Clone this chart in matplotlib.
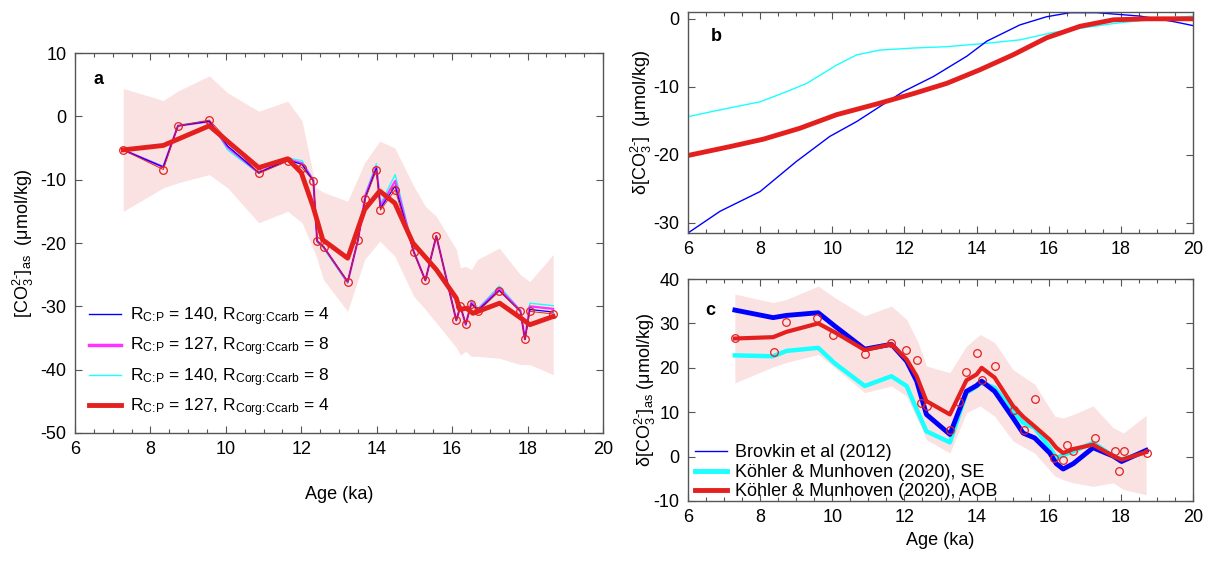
import matplotlib
matplotlib.use("Agg")
import matplotlib.pyplot as plt
from matplotlib.lines import Line2D
from matplotlib.ticker import MultipleLocator

plt.rcParams["font.family"] = ["Liberation Sans", "DejaVu Sans"]
plt.rcParams["mathtext.fontset"] = "custom"
plt.rcParams["mathtext.rm"] = "Liberation Sans"
plt.rcParams["mathtext.it"] = "Liberation Sans"
plt.rcParams["mathtext.default"] = "regular"
plt.rcParams["axes.unicode_minus"] = False

# ---------------- panel a data ----------------
circ_age = [7.28, 8.34, 8.73, 9.56, 10.87, 11.64, 12.02, 12.32, 12.42, 12.59, 13.23, 13.50,
            13.70, 13.99, 14.10, 14.49, 14.98, 15.29, 15.58, 16.11, 16.22, 16.36, 16.51,
            16.69, 17.25, 17.81, 17.93, 18.06, 18.68]
circ_val = [-5.3, -8.4, -1.5, -0.6, -9.0, -7.1, -8.1, -10.2, -19.7, -20.6, -26.1, -19.6,
            -13.0, -8.5, -14.8, -11.6, -21.5, -25.9, -18.9, -32.2, -30.0, -32.8, -29.7,
            -30.8, -27.6, -30.8, -35.2, -30.8, -31.2]

model_age = [7.28, 8.34, 8.73, 9.56, 10.05, 10.87, 11.64, 12.02, 12.32, 12.42, 12.59, 13.23,
             13.50, 13.70, 13.99, 14.10, 14.49, 14.98, 15.29, 15.58, 16.11, 16.22, 16.36,
             16.51, 16.69, 17.25, 17.81, 17.93, 18.06, 18.68]
blue_140_4 = [-5.3, -8.0, -1.5, -0.8, -4.7, -8.9, -6.9, -7.6, -10.2, -19.7, -20.6, -26.1,
              -19.6, -12.8, -8.2, -14.5, -11.0, -21.4, -25.9, -18.9, -32.2, -30.0, -32.8,
              -29.6, -30.6, -27.5, -30.8, -35.2, -30.5, -30.9]
mag_127_8 = [-5.3, -8.0, -1.5, -0.8, -4.9, -8.9, -6.8, -7.4, -10.1, -19.7, -20.6, -26.2,
             -19.6, -12.5, -8.0, -14.2, -10.2, -21.3, -25.9, -18.9, -32.2, -30.0, -32.9,
             -29.4, -30.5, -27.2, -30.7, -35.2, -30.0, -30.4]
cyan_140_8 = [-5.3, -7.9, -1.4, -0.7, -5.3, -9.0, -6.6, -7.0, -10.0, -19.9, -20.8, -26.4,
              -19.6, -12.2, -7.5, -13.8, -9.2, -21.2, -26.0, -18.9, -32.3, -29.8, -33.0,
              -29.0, -30.3, -26.8, -30.6, -35.2, -29.5, -29.9]

red_age = [7.28, 8.34, 9.56, 10.87, 11.64, 12.00, 12.31, 12.57, 13.23, 13.68, 14.08, 14.48,
           14.96, 15.58, 16.11, 16.20, 16.38, 16.55, 17.26, 17.88, 18.06, 18.68]
red_127_4 = [-5.3, -4.6, -1.5, -8.1, -6.7, -8.9, -14.2, -19.5, -22.4, -14.7, -11.8, -13.7,
             -20.0, -24.2, -28.7, -30.5, -30.3, -31.1, -29.5, -32.1, -32.9, -31.6]

band_a_age = [7.28, 8.34, 8.73, 9.56, 10.05, 10.87, 11.64, 12.02, 12.39, 12.59, 13.23, 13.68,
              14.08, 14.48, 14.98, 15.29, 15.58, 16.11, 16.22, 16.36, 16.51, 16.67, 17.25,
              17.81, 18.06, 18.68]
band_a_hi = [4.4, 2.5, 4.0, 6.4, 3.7, 0.8, 2.4, -0.7, -11.3, -12.0, -13.4, -7.3, -3.9, -5.0,
             -11.0, -14.2, -15.8, -21.0, -23.9, -23.7, -24.2, -22.6, -20.8, -25.0, -26.1, -21.8]
band_a_lo = [-15.0, -11.3, -10.5, -9.2, -11.3, -16.8, -15.0, -16.8, -22.0, -25.8, -30.8,
             -22.6, -19.7, -22.1, -28.4, -30.5, -32.6, -36.5, -37.7, -37.1, -37.9, -37.9,
             -38.2, -39.2, -39.2, -40.8]

legend_a = [
    r"$R_{C\!:\!P}$ = 140, $R_{Corg\!:\!Ccarb}$ = 4",
    r"$R_{C\!:\!P}$ = 127, $R_{Corg\!:\!Ccarb}$ = 8",
    r"$R_{C\!:\!P}$ = 140, $R_{Corg\!:\!Ccarb}$ = 8",
    r"$R_{C\!:\!P}$ = 127, $R_{Corg\!:\!Ccarb}$ = 4",
]

# ---------------- panel b data ----------------
b_cyan_age = [6.0, 6.7, 8.0, 8.74, 9.29, 10.12, 10.68, 11.32, 12.25, 13.17, 14.28, 15.2,
              16.13, 16.87, 17.79, 18.72, 20.0]
b_cyan = [-14.4, -13.6, -12.2, -10.7, -9.5, -6.8, -5.3, -4.6, -4.3, -4.1, -3.6, -3.1,
          -2.0, -1.4, -0.7, -0.15, 0.4]
b_blue_age = [6.0, 6.89, 8.0, 9.0, 9.93, 10.68, 11.32, 11.97, 12.8, 13.73, 14.28, 15.2,
              15.94, 16.59, 17.33, 18.53, 19.45, 20.0]
b_blue = [-31.5, -28.3, -25.4, -21.0, -17.3, -15.1, -12.9, -10.7, -8.5, -5.5, -3.3, -0.9,
          0.3, 0.9, 0.9, 0.4, -0.4, -1.0]
b_red_age = [6.0, 7.16, 8.09, 9.1, 10.12, 11.32, 12.25, 13.17, 14.09, 15.01, 15.94, 16.87,
             17.79, 18.72, 20.0]
b_red = [-20.1, -18.8, -17.7, -16.1, -14.1, -12.4, -11.0, -9.5, -7.5, -5.3, -2.8, -1.1,
         -0.15, 0.0, 0.0]

# ---------------- panel c data ----------------
c_age = [7.30, 8.36, 8.73, 9.61, 10.07, 10.90, 11.64, 12.06, 12.34, 12.61, 13.26, 13.72,
         14.00, 14.14, 14.50, 15.01, 15.29, 15.61, 16.03, 16.21, 16.40, 16.68, 17.23,
         17.79, 18.02, 18.70]
c_brovkin = [33.0, 31.3, 31.8, 32.4, 29.4, 24.2, 25.3, 21.5, 17.0, 9.5, 5.0, 14.7, 16.0,
             17.0, 14.7, 8.7, 5.3, 4.2, 0.8, -1.6, -2.8, -1.6, 2.0, 0.1, -1.1, 1.4]
c_km_se = [22.8, 22.6, 23.8, 24.5, 21.0, 15.9, 18.1, 15.9, 10.6, 5.7, 3.2, 14.4, 15.8,
           16.6, 15.5, 10.2, 7.6, 6.5, 2.0, -0.3, 0.3, 1.2, 3.1, 0.1, -0.7, 1.2]
c_km_aob = [26.6, 26.9, 28.1, 30.0, 28.0, 24.0, 25.3, 21.9, 18.1, 12.5, 9.5, 17.2, 18.5,
            20.0, 17.8, 11.4, 9.0, 6.8, 3.8, 2.0, 0.8, 1.7, 2.7, 0.1, -0.7, 1.0]

c_circ_age = [7.30, 8.38, 8.73, 9.58, 10.03, 10.90, 11.64, 12.04, 12.35, 12.45, 12.63,
              13.26, 13.52, 13.72, 14.01, 14.14, 14.50, 15.03, 15.32, 15.62, 16.14, 16.40,
              16.52, 16.68, 17.27, 17.83, 17.95, 18.10, 18.72]
c_circ = [26.6, 23.5, 30.3, 31.2, 27.5, 23.0, 25.5, 24.0, 21.7, 12.1, 11.4, 5.9, 12.3, 19.0,
          23.4, 17.2, 20.4, 10.5, 6.1, 13.0, -0.3, -0.8, 2.5, 1.2, 4.2, 1.2, -3.3, 1.2, 0.8]

band_c_age = [7.30, 8.36, 8.73, 9.61, 10.07, 10.90, 11.64, 12.06, 12.38, 12.61, 13.26,
              13.72, 14.10, 14.50, 15.01, 15.61, 16.17, 16.40, 16.68, 17.23, 17.79, 18.07,
              18.70]
band_c_hi = [36.6, 34.7, 35.4, 38.4, 35.8, 31.7, 33.9, 30.9, 25.7, 20.4, 18.9, 24.9, 27.5,
             25.7, 19.6, 16.3, 9.1, 8.7, 9.5, 11.4, 6.5, 5.3, 9.3]
band_c_lo = [16.6, 20.2, 21.2, 23.0, 20.0, 14.4, 15.9, 13.6, 8.0, 3.8, 0.8, 9.9, 11.4, 9.1,
             3.5, 0.8, -4.4, -5.2, -5.9, -6.7, -5.9, -7.4, -8.6]

legend_c = ["Brovkin et al (2012)", "Köhler & Munhoven (2020), SE",
            "Köhler & Munhoven (2020), AOB"]

BLUE = "#0000ff"
MAG = "#ff33ff"
CYAN = "#1affff"
RED = "#e4201f"
PINK = "#fbe2e2"
SPINE = "#555555"
FS = 13
CO3 = "[CO$_3^{2\u2010}$]"


def style_axes(ax, xlim, ylim, ymajor):
    ax.set_xlim(*xlim)
    ax.set_ylim(*ylim)
    ax.xaxis.set_major_locator(MultipleLocator(2))
    ax.xaxis.set_minor_locator(MultipleLocator(0.5))
    ax.yaxis.set_major_locator(MultipleLocator(ymajor))
    ax.tick_params(which="both", direction="in", top=True, right=True,
                   labelsize=FS, color=SPINE, width=0.8, pad=6)
    ax.tick_params(which="major", length=5)
    ax.tick_params(which="minor", length=3)
    for sp in ax.spines.values():
        sp.set_color(SPINE)
        sp.set_linewidth(1.0)


fig = plt.figure(figsize=(12.15, 5.66), dpi=100)

# ---------- a ----------
ax_a = fig.add_axes([75 / 1215, 1 - 433 / 566, 528 / 1215, 380 / 566])
ax_a.fill_between(band_a_age, band_a_lo, band_a_hi, color=PINK, lw=0)
ax_a.plot(model_age, cyan_140_8, color=CYAN, lw=1.0)
ax_a.plot(model_age, mag_127_8, color=MAG, lw=1.6)
ax_a.plot(model_age, blue_140_4, color=BLUE, lw=0.9)
ax_a.plot(circ_age, circ_val, color=RED, lw=0.7, marker="o", ms=5.5,
          mfc="none", mec=RED, mew=0.9)
ax_a.plot(red_age, red_127_4, color=RED, lw=3.5)
style_axes(ax_a, (6, 20), (-50, 10), 10)
ax_a.set_xlabel("Age (ka)", fontsize=FS, labelpad=20)
ax_a.set_ylabel(CO3 + r"$_{as}$  (μmol/kg)", fontsize=FS, labelpad=3)
ax_a.text(0.035, 0.93, "a", transform=ax_a.transAxes, fontsize=FS, fontweight="bold",
          va="center", ha="left")
handles_a = [Line2D([], [], color=BLUE, lw=1.0),
             Line2D([], [], color=MAG, lw=2.5),
             Line2D([], [], color=CYAN, lw=1.0),
             Line2D([], [], color=RED, lw=3.5)]
ax_a.legend(handles_a, legend_a, loc="lower left", bbox_to_anchor=(0.0, 0.0),
            frameon=False, fontsize=12.5, handlelength=1.85, handletextpad=0.5,
            labelspacing=0.45, borderaxespad=0.5, borderpad=0.3)

# ---------- b ----------
ax_b = fig.add_axes([688 / 1215, 1 - 233 / 566, 505 / 1215, 221 / 566])
ax_b.plot(b_cyan_age, b_cyan, color=CYAN, lw=1.0)
ax_b.plot(b_blue_age, b_blue, color=BLUE, lw=1.0)
ax_b.plot(b_red_age, b_red, color=RED, lw=3.5)
style_axes(ax_b, (6, 20), (-31.5, 1), 10)
ax_b.set_ylabel("δ" + CO3 + "  (μmol/kg)", fontsize=FS, labelpad=0)
ax_b.text(0.045, 0.89, "b", transform=ax_b.transAxes, fontsize=FS, fontweight="bold",
          va="center", ha="left")

# ---------- c ----------
ax_c = fig.add_axes([688 / 1215, 1 - 501 / 566, 505 / 1215, 222 / 566])
ax_c.fill_between(band_c_age, band_c_lo, band_c_hi, color=PINK, lw=0)
ax_c.plot(c_age, c_km_se, color=CYAN, lw=3.2)
ax_c.plot(c_age, c_brovkin, color=BLUE, lw=3.5)
ax_c.plot(c_age, c_km_aob, color=RED, lw=3.0)
ax_c.plot(c_circ_age, c_circ, ls="none", marker="o", ms=5.5, mfc="none", mec=RED, mew=0.9)
style_axes(ax_c, (6, 20), (-10, 40), 10)
ax_c.set_xlabel("Age (ka)", fontsize=FS, labelpad=4)
ax_c.set_ylabel("δ" + CO3 + r"$_{as}$ (μmol/kg)", fontsize=FS, labelpad=-3)
ax_c.text(0.035, 0.86, "c", transform=ax_c.transAxes, fontsize=FS, fontweight="bold",
          va="center", ha="left")
handles_c = [Line2D([], [], color=BLUE, lw=1.0),
             Line2D([], [], color=CYAN, lw=3.5),
             Line2D([], [], color=RED, lw=3.5)]
ax_c.legend(handles_c, legend_c, loc="lower left", bbox_to_anchor=(0.0, -0.03),
            frameon=False, fontsize=FS, handlelength=1.75, handletextpad=0.45,
            labelspacing=0.14, borderaxespad=0.0)

fig.savefig("out.png", dpi=100)
